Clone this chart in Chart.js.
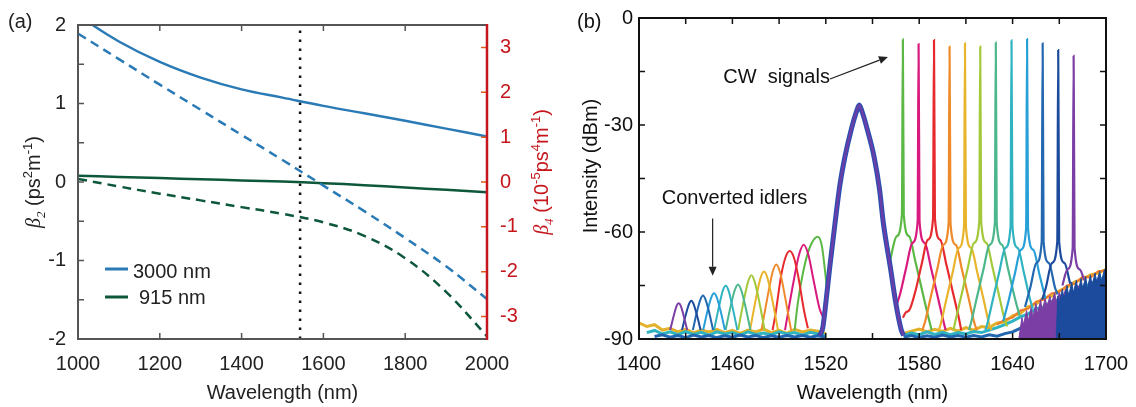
<!DOCTYPE html>
<html>
<head>
<meta charset="utf-8">
<script src="https://cdn.jsdelivr.net/npm/chart.js@4.4.0/dist/chart.umd.min.js"></script>
<style>
  html, body { margin: 0; padding: 0; background: #fff; }
  #wrap { position: relative; width: 1136px; height: 407px; }
  canvas { position: absolute; top: 0; }
  #cA { left: 0; }
  #cB { left: 568px; }
</style>
</head>
<body>
<div id="wrap">
  <canvas id="cA" width="568" height="407"></canvas>
  <canvas id="cB" width="568" height="407"></canvas>
</div>
<script>
const FONT = '"Liberation Sans", Arial, sans-serif';
const SERIF = '"Liberation Serif", "Times New Roman", serif';

// ---------- panel (a): dispersion ----------
const wavelength = [1000, 1100, 1200, 1300, 1400, 1500, 1600, 1700, 1800, 1900, 2000];
const beta2_3000 = [2.12, 1.79, 1.53, 1.33, 1.18, 1.075, 0.97, 0.875, 0.78, 0.68, 0.58];
const beta4_3000 = [3.31, 2.74, 2.17, 1.61, 1.05, 0.49, -0.08, -0.65, -1.25, -1.88, -2.61];
const beta2_915 = [0.08, 0.065, 0.05, 0.035, 0.02, 0.005, -0.015, -0.04, -0.07, -0.10, -0.13];
const beta4_915 = [0.07, -0.10, -0.26, -0.41, -0.56, -0.71, -0.90, -1.20, -1.70, -2.45, -3.44];
const markerNm = 1543; // dotted line (pump wavelength)

// ---------- panel (b): spectra ----------
const traceColors = ['#5bb845', '#d8197d', '#e62a2e', '#ee8a2b', '#e8b42c', '#a3c93b',
                     '#4cb68c', '#2fb3c1', '#27a0d8', '#2267b0', '#1c4a9c', '#7b3ea5'];

// converted idlers [nm, dBm]
const idlers = [
  [[1500,-87.5],[1502,-80],[1506.4,-69.3],[1510.5,-63.5],[1514.9,-61.3],[1517.5,-64],[1520.8,-76]],
  [[1493.8,-87.5],[1499.2,-74.1],[1502.8,-66.4],[1505.8,-63.6],[1508.8,-66.4],[1512.4,-74.1],[1516,-81.5],[1518.4,-84]],
  [[1485.8,-87.5],[1487.5,-83.5],[1491.4,-72],[1494.2,-67],[1496.8,-65.3],[1499.4,-67],[1502.1,-72],[1506,-82],[1508.5,-87]],
  [[1478.7,-87.5],[1483,-77.2],[1485.8,-71.3],[1488.2,-69.1],[1490.6,-71.3],[1493.4,-77.2],[1497.7,-87.5]],
  [[1471.3,-87.5],[1475.3,-78.3],[1478,-73],[1480.3,-71.1],[1482.6,-73],[1485.3,-78.3],[1489.3,-87.5]],
  [[1463.7,-87.5],[1467.5,-78.8],[1470.1,-73.9],[1472.2,-72.1],[1474.3,-73.9],[1476.9,-78.8],[1480.7,-87.5]],
  [[1455.6,-87.5],[1459.2,-80.2],[1461.6,-76.2],[1463.6,-74.7],[1465.6,-76.2],[1468,-80.2],[1471.6,-87.5]],
  [[1448.2,-87.5],[1451.6,-80.5],[1453.8,-76.5],[1455.7,-75.1],[1457.6,-76.5],[1459.8,-80.5],[1463.2,-87.5]],
  [[1441.2,-87.5],[1444.3,-81.6],[1446.4,-78.4],[1448.2,-77.2],[1450,-78.4],[1452.1,-81.6],[1455.2,-87.5]],
  [[1434.6,-87.5],[1437.5,-81.9],[1439.5,-78.9],[1441.1,-77.8],[1442.7,-78.9],[1444.7,-81.9],[1447.6,-87.5]],
  [[1427.6,-87.5],[1430.3,-82.8],[1432.1,-80.2],[1433.6,-79.3],[1435.1,-80.2],[1436.9,-82.8],[1439.6,-87.5]],
  [[1420,-87.5],[1422.5,-83.2],[1424.1,-80.8],[1425.5,-80],[1426.9,-80.8],[1428.5,-83.2],[1431,-87.5]]
];

// CW signals with their pedestals [nm, dBm]
const signals = [
  [[1561,-68.5],[1565.5,-61.2],[1568.9,-55.2],[1569.5,-6.0],[1570.1,-55.2],[1573.5,-61.2],[1577.5,-68.2],[1581.5,-75.7],[1585.5,-83.2],[1588,-87.5]],
  [[1565,-81],[1567.6,-77.6],[1571.6,-70.1],[1575.6,-63.1],[1579,-57.1],[1579.6,-7.3],[1580.2,-57.1],[1583.6,-63.1],[1587.6,-70.1],[1591.6,-77.6],[1595.6,-85.1],[1597,-87.5]],
  [[1569.5,-84],[1571.5,-82.5],[1573.5,-82],[1577.5,-76.7],[1581.5,-69.2],[1585.5,-62.2],[1588.9,-56.2],[1589.5,-6.2],[1590.1,-56.2],[1593.5,-62.2],[1597.5,-69.2],[1601.5,-76.7],[1605.5,-84.2],[1607,-87.5]],
  [[1582,-87.5],[1583.5,-85.6],[1587.5,-78.1],[1591.5,-70.6],[1595.5,-63.6],[1598.9,-57.6],[1599.5,-8.0],[1600.1,-57.6],[1603.5,-63.6],[1607.5,-70.6],[1611.5,-78.1],[1615.5,-85.6],[1617,-87.5]],
  [[1592.5,-87.5],[1593.4,-86.5],[1597.4,-79],[1601.4,-71.5],[1605.4,-64.5],[1608.8,-58.5],[1609.4,-7.1],[1610,-58.5],[1613.4,-64.5],[1617.4,-71.5],[1621.4,-79],[1625.4,-86.5],[1626.5,-87.5]],
  [[1602,-87.5],[1603.2,-85.1],[1607.2,-77.6],[1611.2,-70.1],[1615.2,-63.1],[1618.6,-57.1],[1619.2,-8.0],[1619.8,-57.1],[1623.2,-63.1],[1627.2,-70.1],[1631.2,-77.6],[1635.2,-85.1],[1636.5,-86.5]],
  [[1612,-87.5],[1613.2,-85.6],[1617.2,-78.1],[1621.2,-70.6],[1625.2,-63.6],[1628.6,-57.6],[1629.2,-6.9],[1629.8,-57.6],[1633.2,-63.6],[1637.2,-70.6],[1641.2,-78.1],[1644.5,-83.5]],
  [[1622.5,-87.5],[1623.3,-86.5],[1627.3,-79],[1631.3,-71.5],[1635.3,-64.5],[1638.7,-58.5],[1639.3,-6.3],[1639.9,-58.5],[1643.3,-64.5],[1647.3,-71.5],[1651.3,-79],[1653,-81.5]],
  [[1634,-85],[1637.3,-79.5],[1641.3,-72],[1645.3,-65],[1648.7,-59],[1649.3,-5.9],[1649.9,-59],[1653.3,-65],[1657.3,-72],[1661,-78.5]],
  [[1648,-81],[1651.3,-75.7],[1655.3,-68.7],[1658.7,-62.7],[1659.3,-7.1],[1659.9,-62.7],[1663.3,-68.7],[1667.3,-75.7],[1669,-77.5]],
  [[1659,-79],[1661.3,-75.7],[1665.3,-68.7],[1668.7,-62.7],[1669.3,-9.0],[1669.9,-62.7],[1673.3,-68.7],[1677,-74.5]],
  [[1672,-75],[1675.2,-70.5],[1678.6,-64.5],[1679.2,-10.6],[1679.8,-64.5],[1683.2,-70.5],[1686,-73.5]]
];

// pump (shared by all traces)
const pump = [[1516,-89],[1518,-87],[1520.5,-78],[1522.5,-70],[1525.9,-57.6],[1529,-47],[1532.3,-38.9],
  [1536.5,-31],[1539.5,-26.5],[1541.5,-24.4],[1543.5,-26.5],[1546.5,-31],[1551,-38.9],[1554.5,-48],
  [1557,-57.6],[1561.5,-70],[1565,-80],[1568.5,-87.5],[1570,-89]];

// noise floor
const floorNm = [1400,1405,1410,1415,1420,1425,1430,1435,1440,1445,1450,1455,1460,1465,1470,1475,1480,1485,1490,1495,
  1500,1505,1510,1515,1520,1525,1530,1535,1540,1545,1550,1555,1560,1565,1570,1575,1580,1585,1590,1595,
  1600,1605,1610,1615,1620,1625,1630,1635,1640,1645,1650,1655,1660,1665,1670,1675,1680,1685,1690,1695,1700];
const floorYellow = [-85.5,-86.5,-86,-87.5,-87,-88,-87.2,-88.3,-87.5,-88,-87.3,-88.2,-87.6,-88.4,-87.5,-88,-87.2,-88.2,-87.6,-88.4,
  -87.3,-88,-87.5,-87.8,-88.5,null,null,null,null,null,null,null,null,null,-88.5,-87.8,-87.2,-88,-87.3,-87.9,
  -87,-87.8,-86.8,-87.5,-86.5,-86.8,-85.5,-85.2,-83.5,-82.8,-81,-80.2,-78.5,-78,-76.5,-75.5,-74,-73.2,-72,-71.5,-70.5];
const floorTeal = [null,-88.2,-87.6,-88.6,-88,-88.8,-87.9,-88.7,-88.1,-88.9,-88,-88.6,-88.2,-88.9,-88,-88.7,-88.3,-88.8,-88,-88.6,
  -88.2,-88.9,-88.1,-88.6,-89,null,null,null,null,null,null,null,null,null,-89,-88.3,-88.8,-88,-88.7,-88.1,
  -88.8,-88.2,-88.6,-87.9,-88.2,-87.5,-86.8,-86,-85,-83.8,-83,-81.5,-81,-79.5,-79,-77.5,-77,-75.5,-74.5,-73.5,-72.5];
const floorBlue = [null,null,-89.3,-88.8,-89.5,-89,-89.6,-88.9,-89.4,-89,-89.6,-89.1,-89.5,-88.9,-89.4,-89,-89.6,-89.1,-89.5,-89,
  -89.4,-89,-89.5,-89.1,-89.5,null,null,null,null,null,null,null,null,null,-89.5,-89,-89.6,-89.1,-89.5,-88.9,
  -89.4,-89,-89.5,-89,-89.4,-88.8,-89.2,-88.5,-88,-87,-86.5,-85,-84.5,-83,-82.5,-80,-79,-78,-76.5,-75.5,-74];
const floorOrange = [[1630,-86],[1635,-84.5],[1640,-84],[1645,-82],[1650,-81.5],[1655,-79.5],[1660,-79],[1665,-77.2],
  [1670,-76.8],[1675,-75],[1680,-74.5],[1685,-72.5],[1690,-72.8],[1695,-71],[1700,-70.8]];
const noisePurple = [[1644,-90],[1646,-84],[1647,-86],[1649,-82],[1650,-85],[1652,-81],[1653,-84],[1655,-80],[1656,-83],
  [1658,-79],[1659,-82],[1661,-78.5],[1662,-81],[1664,-78],[1665,-80],[1667,-77],[1668,-79.5],[1670,-77],[1672,-79],
  [1674,-76],[1676,-78],[1678,-76],[1680,-78],[1682,-75],[1684,-77],[1685,-90]];
const noiseBlue = [[1668,-90],[1669,-78],[1670,-80],[1672,-76],[1673,-79],[1675,-75],[1676,-78],[1678,-74],[1679,-77],
  [1681,-73.5],[1682,-77],[1684,-73],[1685,-76],[1687,-72.5],[1688,-76],[1690,-72],[1691,-75],[1693,-71.5],[1694,-74],
  [1696,-71],[1697,-74],[1699,-70.5],[1700,-72],[1700,-90]];

function xy(xs, ys) { return xs.map((x, i) => ({ x: x, y: ys[i] })); }
function pairs(p) { return p.map(d => ({ x: d[0], y: d[1] })); }

// text with italic / sub / sup runs, optionally rotated, centred on (x, y) baseline
function richText(c, runs, x, y, size, color, rot) {
  const isSmall = r => !!r[1] && (r[1].indexOf('sub') >= 0 || r[1].indexOf('sup') >= 0);
  const fnt = r => {
    const s = isSmall(r) ? Math.round(size * 0.66) : size;
    const it = !!r[1] && r[1].indexOf('i') === 0;
    return (it ? 'italic ' : '') + s + 'px ' + (it ? SERIF : FONT);
  };
  let total = 0;
  runs.forEach(r => { c.font = fnt(r); total += c.measureText(r[0]).width; });
  c.save();
  c.translate(x, y);
  if (rot) c.rotate(rot);
  c.fillStyle = color;
  c.textAlign = 'left';
  c.textBaseline = 'alphabetic';
  let cx = -total / 2;
  runs.forEach(r => {
    c.font = fnt(r);
    let dy = 0;
    if (r[1] && r[1].indexOf('sub') >= 0) dy = size * 0.25;
    if (r[1] && r[1].indexOf('sup') >= 0) dy = -size * 0.4;
    c.fillText(r[0], cx, dy);
    cx += c.measureText(r[0]).width;
  });
  c.restore();
}

function arrow(c, x0, y0, x1, y1) {
  const a = Math.atan2(y1 - y0, x1 - x0), L = 9, W = 4;
  const bx = x1 - L * Math.cos(a), by = y1 - L * Math.sin(a);
  c.strokeStyle = '#222'; c.fillStyle = '#222'; c.lineWidth = 1.2;
  c.beginPath(); c.moveTo(x0, y0); c.lineTo(bx, by); c.stroke();
  c.beginPath(); c.moveTo(x1, y1);
  c.lineTo(bx + W * Math.sin(a), by - W * Math.cos(a));
  c.lineTo(bx - W * Math.sin(a), by + W * Math.cos(a));
  c.closePath(); c.fill();
}

const tickFont = { family: FONT, size: 20 };
const noGrid = { display: false, drawTicks: false };
const fitX = s => { s.height = 68; s.paddingLeft = 0; s.paddingRight = 0; };

// ---------------- chart (a) ----------------
const BLUE = '#2a7ab6', GREEN = '#0d573a', RED = '#c4161c';

const decoA = {
  id: 'decoA',
  afterDraw(chart) {
    const c = chart.ctx, a = chart.chartArea, sx = chart.scales.x, sy = chart.scales.y, sy1 = chart.scales.y1;
    c.save();
    c.lineWidth = 1.5; c.strokeStyle = '#555';
    c.beginPath();
    sx.ticks.forEach(t => {
      if (t.value <= sx.min || t.value >= sx.max) return;
      const p = sx.getPixelForValue(t.value);
      c.moveTo(p, a.bottom); c.lineTo(p, a.bottom - 6);
      c.moveTo(p, a.top); c.lineTo(p, a.top + 6);
    });
    sy.ticks.forEach(t => {
      if (t.value <= sy.min || t.value >= sy.max) return;
      const p = sy.getPixelForValue(t.value);
      c.moveTo(a.left, p); c.lineTo(a.left + 6, p);
    });
    c.stroke();
    c.strokeStyle = '#e0581c';
    c.beginPath();
    sy1.ticks.forEach(t => {
      if (!Number.isInteger(t.value)) return;
      const p = sy1.getPixelForValue(t.value);
      c.moveTo(a.right, p); c.lineTo(a.right - 6, p);
    });
    c.stroke();
    // frame
    c.lineWidth = 2; c.strokeStyle = '#555';
    c.beginPath();
    c.moveTo(a.right, a.top); c.lineTo(a.left, a.top); c.lineTo(a.left, a.bottom); c.lineTo(a.right, a.bottom);
    c.stroke();
    c.lineWidth = 2.5; c.strokeStyle = RED;
    c.beginPath(); c.moveTo(a.right, a.top - 1); c.lineTo(a.right, a.bottom + 1); c.stroke();

    // legend
    c.lineWidth = 3;
    c.strokeStyle = BLUE; c.beginPath(); c.moveTo(105, 269); c.lineTo(128, 269); c.stroke();
    c.strokeStyle = GREEN; c.beginPath(); c.moveTo(105, 297); c.lineTo(128, 297); c.stroke();
    c.fillStyle = '#222'; c.font = '20px ' + FONT; c.textAlign = 'left'; c.textBaseline = 'alphabetic';
    c.fillText('3000 nm', 133, 278);
    c.fillText('915 nm', 139, 304);

    // labels and titles
    c.fillText('(a)', 8, 28);
    c.textAlign = 'center';
    c.fillText('Wavelength (nm)', (a.left + a.right) / 2, 399);
    richText(c, [['β', 'i'], ['2', 'isub'], [' (ps'], ['2', 'sup'], ['m'], ['-1', 'sup'], [')']],
      40, 182, 20, '#222', -Math.PI / 2);
    richText(c, [['β', 'i'], ['4', 'isub'], [' (10'], ['-5', 'sup'], ['ps'], ['4', 'sup'], ['m'], ['-1', 'sup'], [')']],
      548, 172, 20, RED, -Math.PI / 2);
    c.restore();
  }
};

new Chart(document.getElementById('cA'), {
  type: 'line',
  data: {
    datasets: [
      { data: xy(wavelength, beta2_3000), yAxisID: 'y', borderColor: BLUE, borderWidth: 2.5 },
      { data: xy(wavelength, beta4_3000), yAxisID: 'y1', borderColor: BLUE, borderWidth: 2.5, borderDash: [9, 6] },
      { data: xy(wavelength, beta2_915), yAxisID: 'y', borderColor: GREEN, borderWidth: 2.5 },
      { data: xy(wavelength, beta4_915), yAxisID: 'y1', borderColor: GREEN, borderWidth: 2.5, borderDash: [9, 6] },
      { data: [{ x: markerNm, y: -2 }, { x: markerNm, y: 2 }], yAxisID: 'y', borderColor: '#111',
        borderWidth: 2.5, borderDash: [2.5, 6.5], tension: 0 }
    ]
  },
  options: {
    responsive: false,
    animation: false,
    layout: { padding: { top: 20, left: 0, right: 0, bottom: 0 } },
    elements: { point: { radius: 0 }, line: { tension: 0.4, borderCapStyle: 'butt', fill: false } },
    plugins: { legend: { display: false }, tooltip: { enabled: false } },
    scales: {
      x: {
        type: 'linear', min: 1000, max: 2000,
        afterFit: fitX,
        grid: noGrid, border: { display: false },
        ticks: { stepSize: 200, autoSkip: false, maxRotation: 0, padding: 13, color: '#222', font: tickFont,
          callback: v => String(v) }
      },
      y: {
        position: 'left', min: -2, max: 2,
        afterFit: s => { s.width = 78; },
        grid: noGrid, border: { display: false },
        ticks: { stepSize: 0.5, autoSkip: false, padding: 12, color: '#222', font: tickFont,
          callback: v => Number.isInteger(v) ? String(v) : '' }
      },
      y1: {
        position: 'right', min: -3.5, max: 3.5,
        afterFit: s => { s.width = 81; },
        grid: noGrid, border: { display: false },
        ticks: { stepSize: 0.5, autoSkip: false, padding: 13, color: RED, font: tickFont,
          callback: v => Number.isInteger(v) ? String(v) : '' }
      }
    }
  },
  plugins: [decoA]
});

// ---------------- chart (b) ----------------
const decoB = {
  id: 'decoB',
  afterDraw(chart) {
    const c = chart.ctx, a = chart.chartArea, sx = chart.scales.x, sy = chart.scales.y;
    c.save();
    c.lineWidth = 1.5; c.strokeStyle = '#111';
    c.beginPath();
    sx.ticks.forEach(t => {
      if (t.value <= sx.min || t.value >= sx.max) return;
      const p = sx.getPixelForValue(t.value);
      c.moveTo(p, a.bottom); c.lineTo(p, a.bottom - 6);
      c.moveTo(p, a.top); c.lineTo(p, a.top + 6);
    });
    sy.ticks.forEach(t => {
      if (t.value <= sy.min || t.value >= sy.max) return;
      const p = sy.getPixelForValue(t.value);
      c.moveTo(a.left, p); c.lineTo(a.left + 6, p);
      c.moveTo(a.right, p); c.lineTo(a.right - 6, p);
    });
    c.stroke();
    c.lineWidth = 2;
    c.strokeRect(a.left, a.top, a.right - a.left, a.bottom - a.top);

    c.fillStyle = '#111'; c.font = '20px ' + FONT; c.textAlign = 'left'; c.textBaseline = 'alphabetic';
    c.fillText('CW  signals', sx.getPixelForValue(1454.1), sy.getPixelForValue(-18.1));
    c.fillText('Converted idlers', sx.getPixelForValue(1414.6), sy.getPixelForValue(-52.1));
    arrow(c, sx.getPixelForValue(1522.7), sy.getPixelForValue(-17.1), sx.getPixelForValue(1559.9), sy.getPixelForValue(-10.9));
    arrow(c, sx.getPixelForValue(1447.3), sy.getPixelForValue(-56.2), sx.getPixelForValue(1447.3), sy.getPixelForValue(-72.3));

    c.fillStyle = '#111'; c.font = '20px ' + FONT; c.textAlign = 'left';
    c.fillText('(b)', 9, 28);
    c.textAlign = 'center';
    c.fillText('Wavelength (nm)', (a.left + a.right) / 2, 399);
    c.save(); c.translate(29, 166); c.rotate(-Math.PI / 2); c.fillText('Intensity (dBm)', 0, 0); c.restore();
    c.restore();
  }
};

const flat = { tension: 0, cubicInterpolationMode: 'default' };
const dsB = [];
// floor noise (drawn first)
dsB.push(Object.assign({ data: xy(floorNm, floorYellow), borderColor: '#e3b22b', borderWidth: 3, order: 100 }, flat));
dsB.push(Object.assign({ data: xy(floorNm, floorTeal), borderColor: '#2fb3c1', borderWidth: 3, order: 99 }, flat));
dsB.push(Object.assign({ data: xy(floorNm, floorBlue), borderColor: '#2267b0', borderWidth: 3, order: 98 }, flat));
dsB.push(Object.assign({ data: pairs(floorOrange), borderColor: '#ee7a2b', borderWidth: 2, order: 97 }, flat));
dsB.push(Object.assign({ data: pairs(noisePurple), borderColor: '#7b3ea5', backgroundColor: '#7b3ea5', borderWidth: 1,
  fill: { value: -90 }, order: 96 }, flat));
dsB.push(Object.assign({ data: pairs(noiseBlue), borderColor: '#1c4a9c', backgroundColor: '#1c4a9c', borderWidth: 1,
  fill: { value: -90 }, order: 95 }, flat));
// idlers and signals
idlers.forEach((p, i) => {
  dsB.push({ data: pairs(p), borderColor: traceColors[i], borderWidth: 2, order: 60 - i });
});
signals.forEach((p, i) => {
  dsB.push({ data: pairs(p), borderColor: traceColors[i], borderWidth: 2.2, order: 40 - i });
});
// pump on top
dsB.push({ data: pairs(pump), borderColor: '#2b4fb0', borderWidth: 5, order: 2 });
dsB.push({ data: pairs(pump), borderColor: '#6a3ea8', borderWidth: 2.5, order: 1 });

new Chart(document.getElementById('cB'), {
  type: 'line',
  data: { datasets: dsB },
  options: {
    responsive: false,
    animation: false,
    layout: { padding: { top: 18, left: 0, right: 30, bottom: 0 } },
    elements: { point: { radius: 0 }, line: { cubicInterpolationMode: 'monotone', borderCapStyle: 'butt', fill: false } },
    plugins: { legend: { display: false }, tooltip: { enabled: false } },
    scales: {
      x: {
        type: 'linear', min: 1400, max: 1700,
        afterFit: fitX,
        grid: noGrid, border: { display: false },
        ticks: { stepSize: 30, autoSkip: false, maxRotation: 0, padding: 13, color: '#111', font: tickFont,
          callback: v => (v - 1400) % 60 === 0 ? String(v) : '' }
      },
      y: {
        position: 'left', min: -90, max: 0,
        afterFit: s => { s.width = 71; },
        grid: noGrid, border: { display: false },
        ticks: { stepSize: 15, autoSkip: false, padding: 6, color: '#111', font: tickFont,
          callback: v => v % 30 === 0 ? String(v) : '' }
      }
    }
  },
  plugins: [decoB]
});
</script>
</body>
</html>
